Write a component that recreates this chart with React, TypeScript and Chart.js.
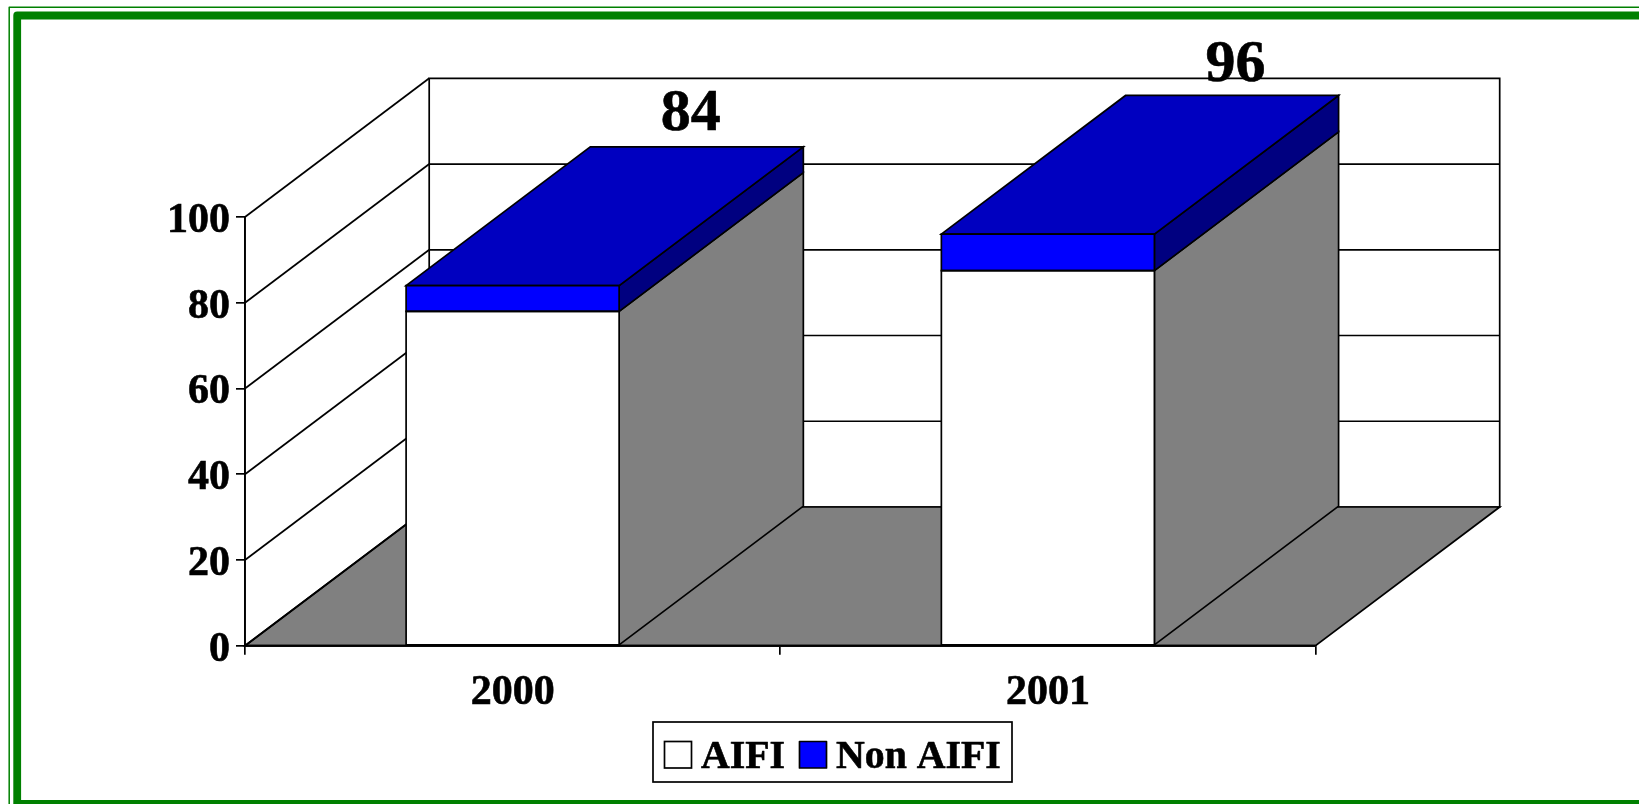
import React, { useEffect, useRef } from "react";
import { Chart, registerables } from "chart.js";

Chart.register(...registerables);

const categories = ["2000", "2001"];
const aifiValues = [78, 87.5];
const nonAifiValues = [6, 8.5];
const totalLabels = [84, 96];
const seriesNames = ["AIFI", "Non AIFI"];
const seriesFaceColors = ["#FFFFFF", "#0000FF"];
const seriesSideColors = ["#808080", "#000080"];
const seriesTopColors = ["#FFFFFF", "#0000C0"];
const yTicks = [0, 20, 40, 60, 80, 100];

const FONT = '"Liberation Serif", "Times New Roman", serif';
const DX = 184.2;
const DY = 138.7;
const LINE = 1.7;
const TEXT_STROKE = 0.6;
const BLACK = "#000000";
const GREEN = "#008000";
const totalLabelShiftX = [-6, 3.5];
const totalLabelShiftY = [16.5, 14.5];

function poly(ctx: any, pts: number[][], fill?: string) {
  ctx.beginPath();
  pts.forEach((p, i) => (i ? ctx.lineTo(p[0], p[1]) : ctx.moveTo(p[0], p[1])));
  ctx.closePath();
  if (fill) {
    ctx.fillStyle = fill;
    ctx.fill();
  }
  ctx.strokeStyle = BLACK;
  ctx.lineWidth = LINE;
  ctx.lineJoin = "miter";
  ctx.stroke();
}

function seg(ctx: any, x1: number, y1: number, x2: number, y2: number, w = LINE) {
  ctx.beginPath();
  ctx.moveTo(x1, y1);
  ctx.lineTo(x2, y2);
  ctx.strokeStyle = BLACK;
  ctx.lineWidth = w;
  ctx.stroke();
}

function boldText(ctx: any, text: string, x: number, y: number) {
  ctx.fillStyle = BLACK;
  ctx.strokeStyle = BLACK;
  ctx.lineWidth = TEXT_STROKE;
  ctx.lineJoin = "round";
  ctx.fillText(text, x, y);
  ctx.strokeText(text, x, y);
}

const framePlugin = {
  id: "frame",
  beforeDraw(chart: any) {
    const { ctx } = chart;
    ctx.save();
    ctx.fillStyle = "#FFFFFF";
    ctx.fillRect(0, 0, chart.width, chart.height);
    ctx.lineJoin = "round";
    ctx.strokeStyle = GREEN;
    ctx.lineWidth = 1.5;
    ctx.strokeRect(9.2, 7.3, 1800, 1000);
    ctx.lineWidth = 7.8;
    ctx.strokeRect(17.2, 15.5, 1800, 788.4);
    ctx.restore();
  },
};

const depthPlugin = {
  id: "depth",
  beforeDatasetsDraw(chart: any) {
    const { ctx, chartArea: a, scales } = chart;
    const y = scales.y;
    const x0 = a.left;
    const x1 = a.right;
    const yBase = y.getPixelForValue(0);
    const yTop = y.getPixelForValue(100);
    ctx.save();
    poly(ctx, [
      [x0 + DX, yTop - DY],
      [x1 + DX, yTop - DY],
      [x1 + DX, yBase - DY],
      [x0 + DX, yBase - DY],
    ], "#FFFFFF");
    poly(ctx, [
      [x0, yBase],
      [x1, yBase],
      [x1 + DX, yBase - DY],
      [x0 + DX, yBase - DY],
    ], "#808080");
    seg(ctx, x0, yBase, x0, yTop);
    yTicks.forEach((v) => {
      const py = y.getPixelForValue(v);
      seg(ctx, x0, py, x0 + DX, py - DY);
      if (v > 0 && v < 100) seg(ctx, x0 + DX, py - DY, x1 + DX, py - DY);
    });
    chart.data.datasets.forEach((ds: any, i: number) => {
      chart.getDatasetMeta(i).data.forEach((bar: any) => {
        const r = bar.x + bar.width / 2;
        const l = bar.x - bar.width / 2;
        poly(ctx, [
          [r, bar.base],
          [r + DX, bar.base - DY],
          [r + DX, bar.y - DY],
          [r, bar.y],
        ], seriesSideColors[i]);
        if (i === chart.data.datasets.length - 1) {
          poly(ctx, [
            [l, bar.y],
            [r, bar.y],
            [r + DX, bar.y - DY],
            [l + DX, bar.y - DY],
          ], seriesTopColors[i]);
        }
      });
    });
    ctx.restore();
  },
  afterDatasetsDraw(chart: any) {
    const { ctx, scales } = chart;
    ctx.save();
    chart.data.datasets.forEach((ds: any, i: number) => {
      chart.getDatasetMeta(i).data.forEach((bar: any) => {
        poly(ctx, [
          [bar.x - bar.width / 2, bar.base],
          [bar.x + bar.width / 2, bar.base],
          [bar.x + bar.width / 2, bar.y],
          [bar.x - bar.width / 2, bar.y],
        ]);
      });
    });
    const last = chart.getDatasetMeta(chart.data.datasets.length - 1);
    ctx.font = `bold 60px ${FONT}`;
    ctx.textAlign = "center";
    ctx.textBaseline = "alphabetic";
    last.data.forEach((bar: any, j: number) => {
      boldText(
        ctx,
        String(totalLabels[j]),
        bar.x + DX + totalLabelShiftX[j],
        bar.y - DY - totalLabelShiftY[j]
      );
    });
    const yBase = scales.y.getPixelForValue(0);
    seg(ctx, chart.chartArea.left, yBase, chart.chartArea.right, yBase, 2);
    ctx.restore();
  },
};

const legendPlugin = {
  id: "boxLegend",
  afterDraw(chart: any) {
    const { ctx } = chart;
    ctx.save();
    ctx.strokeStyle = BLACK;
    ctx.lineWidth = LINE;
    ctx.fillStyle = "#FFFFFF";
    ctx.fillRect(653, 722, 359, 60);
    ctx.strokeRect(653, 722, 359, 60);
    ctx.font = `bold 39.8px ${FONT}`;
    ctx.textBaseline = "alphabetic";
    ctx.textAlign = "left";
    const swatchX = [664.5, 799.5];
    const textX = [701, 836];
    chart.data.datasets.forEach((ds: any, i: number) => {
      ctx.fillStyle = seriesFaceColors[i];
      ctx.fillRect(swatchX[i], 741.5, 27, 26.5);
      ctx.strokeStyle = BLACK;
      ctx.lineWidth = LINE;
      ctx.strokeRect(swatchX[i], 741.5, 27, 26.5);
      boldText(ctx, seriesNames[i], textX[i], 767.5);
    });
    ctx.restore();
  },
};

export default function App() {
  const ref = useRef<HTMLCanvasElement | null>(null);
  useEffect(() => {
    const chart = new Chart(ref.current as HTMLCanvasElement, {
      type: "bar",
      data: {
        labels: categories,
        datasets: [
          { label: seriesNames[0], data: aifiValues, backgroundColor: seriesFaceColors[0], borderWidth: 0 },
          { label: seriesNames[1], data: nonAifiValues, backgroundColor: seriesFaceColors[1], borderWidth: 0 },
        ],
      } as any,
      options: {
        responsive: false,
        animation: false,
        layout: { padding: { top: 217, right: 323.5, left: 0, bottom: 0 } },
        datasets: { bar: { categoryPercentage: 1, barPercentage: 0.398 } },
        plugins: { legend: { display: false }, tooltip: { enabled: false }, title: { display: false } },
        scales: {
          x: {
            stacked: true,
            afterFit: (s: any) => {
              s.height = 158.3;
            },
            grid: { drawOnChartArea: false, tickLength: 9, color: BLACK, lineWidth: LINE },
            border: { display: true, color: BLACK, width: LINE },
            ticks: {
              color: BLACK,
              padding: 13,
              maxRotation: 0,
              textStrokeColor: BLACK,
              textStrokeWidth: TEXT_STROKE,
              font: { family: FONT, weight: "bold", size: 42 },
            },
          },
          y: {
            stacked: true,
            min: 0,
            max: 100,
            afterFit: (s: any) => {
              s.width = 245;
            },
            grid: { drawOnChartArea: false, tickLength: 9, color: BLACK, lineWidth: LINE },
            border: { display: true, color: BLACK, width: LINE },
            ticks: {
              color: BLACK,
              padding: 6,
              stepSize: 20,
              labelOffset: 4,
              textStrokeColor: BLACK,
              textStrokeWidth: TEXT_STROKE,
              font: { family: FONT, weight: "bold", size: 42 },
            },
          },
        },
      } as any,
      plugins: [framePlugin, depthPlugin, legendPlugin],
    });
    return () => chart.destroy();
  }, []);
  return (
    <canvas
      ref={ref}
      width={1639}
      height={804}
      style={{ position: "fixed", left: 0, top: 0, display: "block" }}
    />
  );
}
